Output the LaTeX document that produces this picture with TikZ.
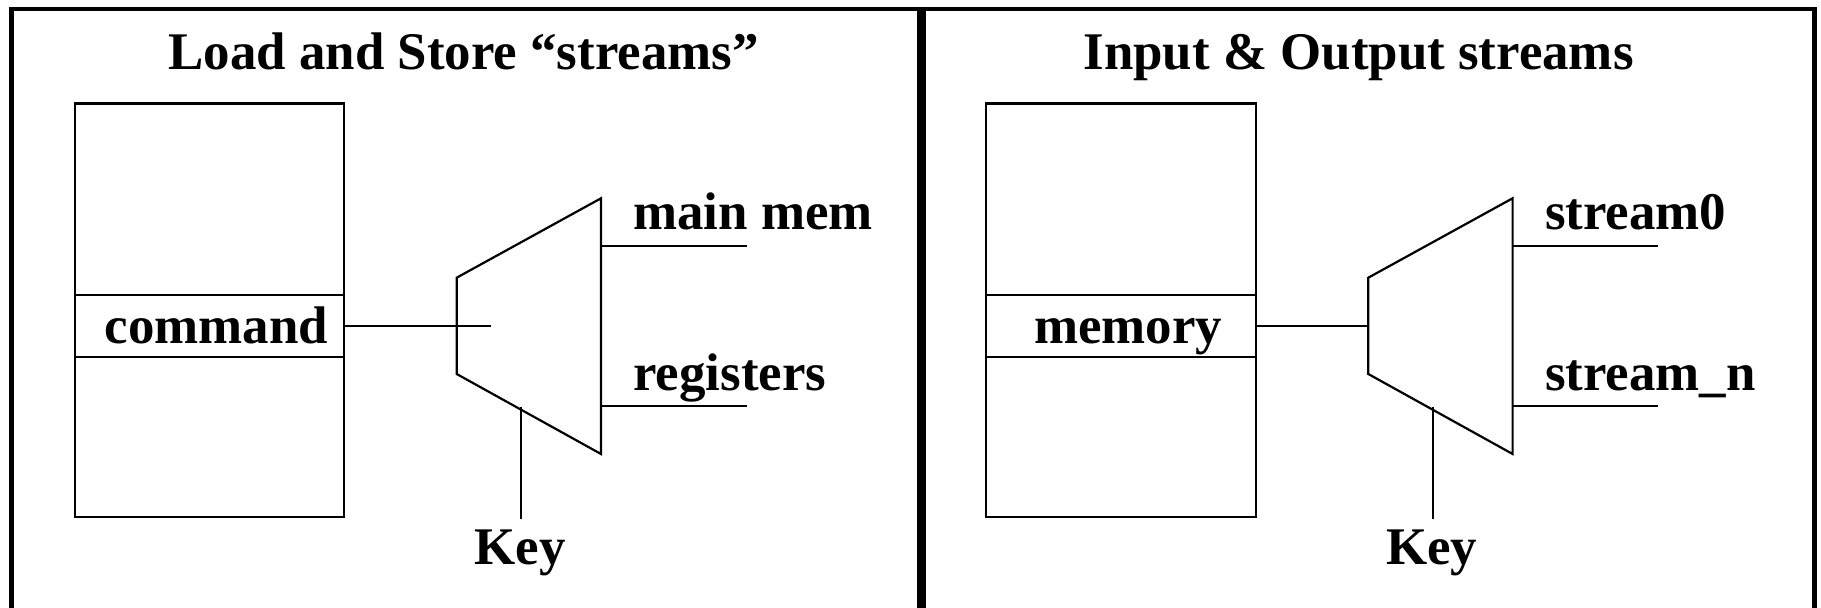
\documentclass[tikz,border=0pt]{standalone}
\usepackage{fontspec}
\setmainfont{Liberation Serif}
\begin{document}
\begin{tikzpicture}[x=0.5pt,y=-0.5pt,
  frame/.style={line width=2.25pt, line join=miter},
  divider/.style={line width=4.5pt},
  wire/.style={line width=1.1pt},
  cell/.style={draw, line width=1.1pt, rectangle, inner sep=0pt, minimum width=134.65pt},
  lbl/.style={inner sep=0pt, font=\bfseries\fontsize{26.45pt}{30pt}\selectfont}]
\useasboundingbox (0,0) rectangle (1821,608);
% frames
\draw[frame] (11.7,640) -- (11.7,9) -- (1814.5,9) -- (1814.5,640);
\draw[divider] (921.3,9) -- (921.3,640);

% ---------- left panel ----------
\node[lbl, anchor=base] (titleL) at (463.5,70) {Load and Store “streams”};
\node[cell, minimum height=95.75pt] (topL) at (209.35,199.25) {};
\node[cell, minimum height=31.15pt] (midL) at (209.35,326.15) {};
\node[cell, minimum height=79.85pt] (botL) at (209.35,437.15) {};
\node[lbl, anchor=base] (cmdL) at (216.5,343.3) {command};
\coordinate (tlL) at (456.7,277.7);
\coordinate (blL) at (456.7,374);
\coordinate (trL) at (601,198.3);
\coordinate (brL) at (601,454);
\draw[wire, line join=miter] (tlL) -- (trL) -- (brL) -- (blL) -- cycle;
\coordinate (inL) at (490.7,325.7);
\draw[wire] (midL.east |- inL) -- (inL);
\coordinate (o1sL) at (601,245.7);
\coordinate (o1eL) at (746.7,245.7);
\coordinate (o2sL) at (601,405.7);
\coordinate (o2eL) at (746.7,405.7);
\draw[wire] (o1sL) -- (o1eL);
\draw[wire] (o2sL) -- (o2eL);
\node[lbl, anchor=base west] (mmL) at (633,230) {main mem};
\node[lbl, anchor=base west] (regL) at (633,390.7) {registers};
\coordinate (ktL) at (521,407);
\coordinate (kbL) at (521,519.3);
\draw[wire] (ktL) -- (kbL);
\node[lbl, anchor=base] (keyL) at (520,565) {Key};

% ---------- right panel ----------
\node[lbl, anchor=base] (titleR) at (1358.6,70) {Input \& Output streams};
\node[cell, minimum height=95.75pt] (topR) at (1120.95,199.25) {};
\node[cell, minimum height=31.15pt] (midR) at (1120.95,326.15) {};
\node[cell, minimum height=79.85pt] (botR) at (1120.95,437.15) {};
\node[lbl, anchor=base] (memR) at (1128,343.3) {memory};
\coordinate (tlR) at (1368.3,277.7);
\coordinate (blR) at (1368.3,374);
\coordinate (trR) at (1512.6,198.3);
\coordinate (brR) at (1512.6,454);
\draw[wire, line join=miter] (tlR) -- (trR) -- (brR) -- (blR) -- cycle;
\coordinate (inR) at (1368.3,325.7);
\draw[wire] (midR.east |- inR) -- (inR);
\coordinate (o1sR) at (1512.6,245.7);
\coordinate (o1eR) at (1658.3,245.7);
\coordinate (o2sR) at (1512.6,405.7);
\coordinate (o2eR) at (1658.3,405.7);
\draw[wire] (o1sR) -- (o1eR);
\draw[wire] (o2sR) -- (o2eR);
\node[lbl, anchor=base west] (s0R) at (1544.6,230) {stream0};
\node[lbl, anchor=base west] (snR) at (1544.6,390.7) {stream\_n};
\coordinate (ktR) at (1432.6,407);
\coordinate (kbR) at (1432.6,519.3);
\draw[wire] (ktR) -- (kbR);
\node[lbl, anchor=base] (keyR) at (1431.6,565) {Key};
\end{tikzpicture}
\end{document}
